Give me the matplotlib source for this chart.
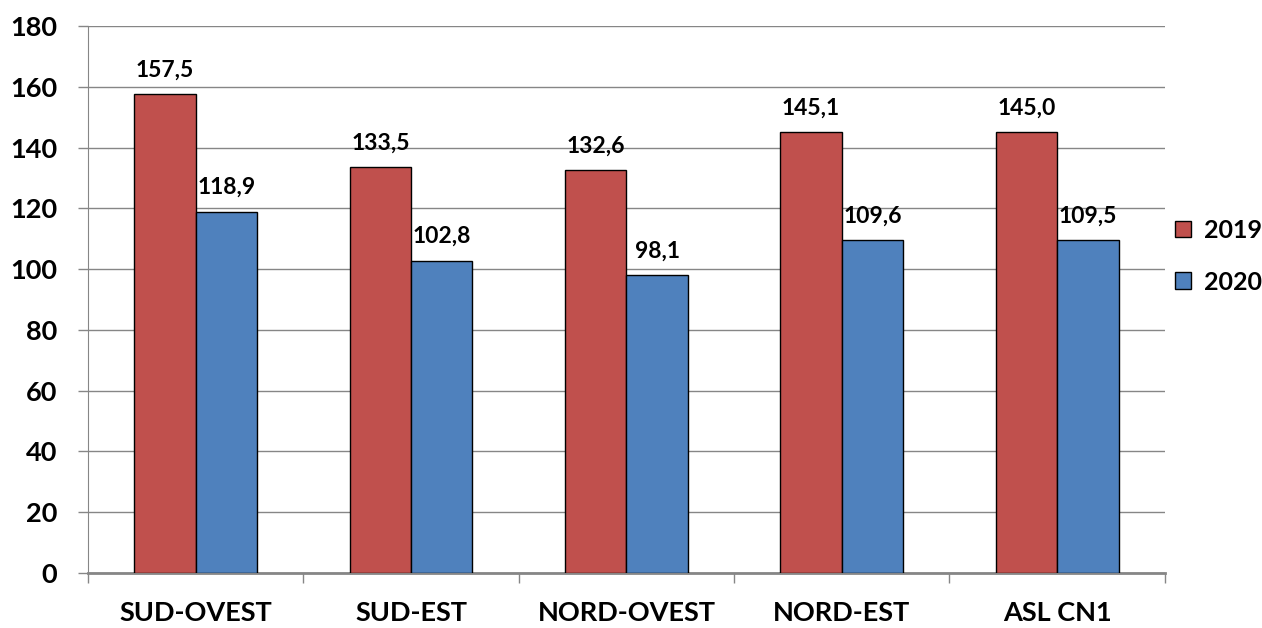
import matplotlib
matplotlib.use("Agg")
import matplotlib.pyplot as plt
import numpy as np

categories = ["SUD-OVEST", "SUD-EST", "NORD-OVEST", "NORD-EST", "ASL CN1"]
vals_2019 = [157.5, 133.5, 132.6, 145.1, 145.0]
vals_2020 = [118.9, 102.8, 98.1, 109.6, 109.5]
series_names = ["2019", "2020"]

plt.rcParams['font.family'] = ['Lato', 'DejaVu Sans']

fig = plt.figure(figsize=(12.62, 6.28), dpi=100)
ax = fig.add_axes([0.0697, 0.0876, 0.8533, 0.871])

x = np.arange(len(categories))
w = 0.285
grid_col = "#868686"

b1 = ax.bar(x - w/2, vals_2019, w, color="#C0504D", edgecolor="black", linewidth=1, label=series_names[0], zorder=3)
b2 = ax.bar(x + w/2, vals_2020, w, color="#4F81BD", edgecolor="black", linewidth=1, label=series_names[1], zorder=3)

for bars, vals in ((b1, vals_2019), (b2, vals_2020)):
	for r, v in zip(bars, vals):
		ax.text(r.get_x() + r.get_width()/2, v + 4.5, f"{v:.1f}".replace(".", ","),
			ha="center", va="bottom", fontsize=16.5, fontweight="bold")

ax.set_xlim(-0.5, len(categories) - 0.5)
ax.set_ylim(0, 180)
ax.set_yticks(np.arange(0, 181, 20))
ax.yaxis.grid(True, color=grid_col, linewidth=1, zorder=0)
ax.set_axisbelow(True)

ax.set_xticks(x)
ax.set_xticklabels(categories, fontsize=19.5, fontweight="bold")
ax.set_xticks(np.arange(-0.5, len(categories)), minor=True)
ax.tick_params(axis="x", which="major", length=0, pad=20)
ax.tick_params(axis="x", which="minor", length=7, color=grid_col, width=1)
ax.tick_params(axis="y", length=7, color=grid_col, width=1, labelsize=19.5, pad=15)
for lab in ax.get_yticklabels():
	lab.set_fontweight("bold")

for s in ("top", "right"):
	ax.spines[s].set_visible(False)
ax.spines["left"].set_color(grid_col)
ax.spines["bottom"].set_color(grid_col)
ax.spines["bottom"].set_linewidth(2)

leg = fig.legend(handles=[b1, b2], labels=series_names, loc="center left",
	bbox_to_anchor=(0.931, 0.592), frameon=False, borderpad=0, borderaxespad=0,
	fontsize=18, handlelength=0.65, handleheight=0.65, labelspacing=1.15, handletextpad=0.5)
for t in leg.get_texts():
	t.set_fontweight("bold")

fig.savefig("out.png", dpi=100)
